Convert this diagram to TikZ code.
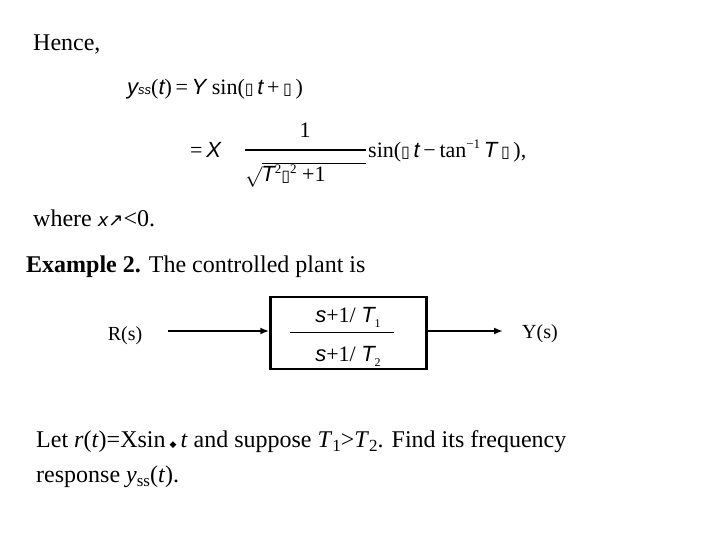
\documentclass[tikz,border=0pt]{standalone}
\usepackage{fontspec}
\usetikzlibrary{arrows.meta}
\setmainfont{Liberation Serif}
\newfontfamily\ars{Liberation Sans}
\newfontfamily\djv{DejaVu Sans}
\newcommand{\bx}{{\djv\slshape\fontsize{16}{16}\selectfont ▯}}
\newcommand{\V}[1]{{\ars\itshape #1}}
\begin{document}
\begin{tikzpicture}[x=1pt,y=-1pt,
  txt/.style={anchor=base west,inner sep=0pt,font=\fontsize{24}{28}\selectfont},
  eq/.style={anchor=base west,inner sep=0pt,font=\fontsize{22}{26}\selectfont},
  sig/.style={anchor=base,inner sep=0pt,font=\fontsize{20}{24}\selectfont},
  arr/.style={-{Latex[length=9pt,width=7pt]},line width=2pt}]
\useasboundingbox (0,0) rectangle (720,540);
\node[txt] (hence) at (33,51) {Hence,};
\node[eq] (l1) at (127,95) {\V{y}{\fontsize{13}{13}\selectfont\V{ss}}(\V{t})\,=\,\V{Y} sin(\bx\,\V{t}\,+\,\bx\,)};
\node[eq] (l2a) at (190,158) {=\,\V{X}};
\node[eq,anchor=base] (num) at (305,138) {1};
\node[eq] (den) at (245,182) {$\surd$\kern-1pt\V{T}{\fontsize{13}{13}\selectfont\raisebox{8pt}{2}}\bx{\fontsize{13}{13}\selectfont\raisebox{8pt}{2}} +1};
\draw[line width=1.2pt] (245,150) coordinate (fl) -- (366,150) coordinate (fr);
\draw[line width=1pt] (262,164) coordinate (sq1) -- (366,164) coordinate (sq2);
\node[eq] (l2b) at (368,158) {sin(\bx\,\V{t}\,−\,tan{\fontsize{13}{13}\selectfont\raisebox{9pt}{−1}}\,\V{T}\,\bx\,),};
\node[txt] (where) at (33,226) {where {\djv\itshape\fontsize{18}{18}\selectfont x↗}<0.};
\node[txt] (ex) at (26,272) {\textbf{Example 2.} The controlled plant is};
\node[draw,line width=2.5pt,minimum width=156pt,minimum height=72pt,inner sep=0pt] (box) at (348.5,333) {};
\node[eq,anchor=base] (n) at (348,322) {\V{s}+1/ \V{T}{\fontsize{12}{12}\selectfont\raisebox{-5pt}{1}}};
\node[eq,anchor=base] (d) at (348,361) {\V{s}+1/ \V{T}{\fontsize{12}{12}\selectfont\raisebox{-5pt}{2}}};
\draw[line width=1pt] (290,332) coordinate (b1) -- (394,332) coordinate (b2);
\node[sig] (R) at (125,340) {R(s)};
\node[sig] (Y) at (540,338) {Y(s)};
\coordinate (rin) at (168,331);
\coordinate (yout) at (503,331);
\draw[arr] (rin) -- (box.west |- rin);
\draw[arr] (box.east |- yout) -- (yout);
\node[txt] (let) at (36,447) {Let \textit{r}(\textit{t})=Xsin\,{\djv\fontsize{9}{9}\selectfont ◆}\,\textit{t} and suppose \textit{T}\raisebox{-4pt}{\fontsize{17}{17}\selectfont 1}>\textit{T}\raisebox{-4pt}{\fontsize{17}{17}\selectfont 2}. Find its frequency};
\node[txt] (resp) at (36,482) {response \textit{y}\raisebox{-4pt}{\fontsize{17}{17}\selectfont ss}(\textit{t}).};
\end{tikzpicture}
\end{document}
